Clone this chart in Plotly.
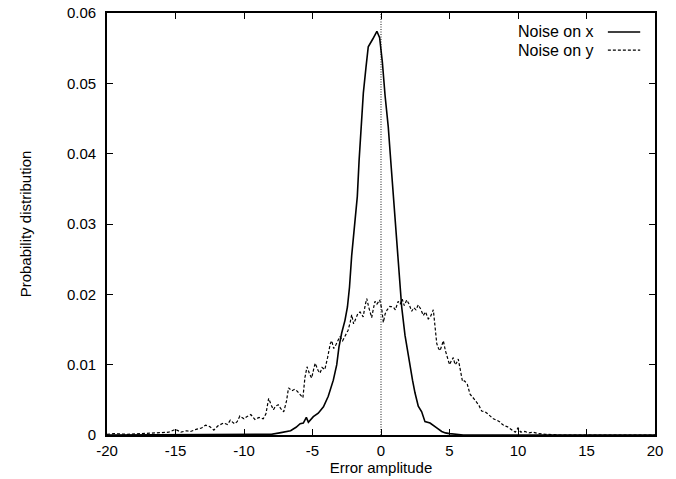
import plotly.graph_objects as go

# ---- data ----
x_noise_x = [-20, -16, -12, -9, -8, -7.4, -7.0, -6.6, -6.2, -5.9, -5.67, -5.45, -5.3, -5.1, -4.94,
             -4.58, -4.2, -3.85, -3.48, -3.23, -3.07, -2.87, -2.63, -2.45, -2.3, -2.14, -1.95,
             -1.73, -1.6, -1.46, -1.29, -1.1, -0.93, -0.6, -0.3, -0.1, 0.1, 0.3, 0.53, 0.75,
             1.02, 1.14, 1.25, 1.39, 1.51, 1.75, 2.0, 2.12, 2.3, 2.48, 2.72, 2.97, 3.21, 3.58,
             3.82, 4.07, 4.43, 4.7, 5.0, 5.5, 6.0, 8, 12, 16, 20]
y_noise_x = [0.0, 0.0, 0.0, 0.0, 0.0001, 0.0003, 0.0004, 0.0006, 0.0011, 0.0016, 0.0017, 0.0025, 0.0018, 0.0022, 0.0026,
             0.0031, 0.0040, 0.0055, 0.0078, 0.0100, 0.0125, 0.0145, 0.0163, 0.0182, 0.0210, 0.0255, 0.0295,
             0.0339, 0.0390, 0.0440, 0.0486, 0.0522, 0.0552, 0.0563, 0.0574, 0.0565, 0.0530, 0.0482, 0.0438, 0.0380,
             0.0305, 0.0277, 0.0250, 0.0215, 0.0182, 0.0142, 0.0110, 0.0097, 0.0078, 0.0060, 0.0041, 0.0033, 0.0019, 0.0017,
             0.0014, 0.0010, 0.0005, 0.0003, 0.0002, 0.0001, 0.0, 0.0, 0.0, 0.0, 0.0]

x_noise_y = [-20, -19.5, -18.5, -17.5, -16.5, -16.0, -15.5, -15.0, -14.6, -14.2, -13.9, -13.5, -13.1, -12.8,
             -12.5, -12.2, -11.9, -11.5, -11.2, -11.0, -10.7, -10.5, -10.3, -10.0, -9.8, -9.5, -9.2, -8.9,
             -8.6, -8.4, -8.2, -8.0, -7.85, -7.7, -7.5, -7.3, -7.1, -6.9, -6.75, -6.5, -6.3, -6.1, -5.9,
             -5.7, -5.55, -5.4, -5.2, -5.06, -4.9, -4.8, -4.6, -4.45, -4.3, -4.1, -3.9, -3.7, -3.6, -3.45,
             -3.3, -3.1, -3.0, -2.8, -2.6, -2.4, -2.25, -2.14, -2.0, -1.85, -1.7, -1.53, -1.4, -1.3, -1.15,
             -1.04, -0.9, -0.75, -0.68, -0.55, -0.44, -0.3, -0.1, 0.05, 0.17, 0.3, 0.45, 0.65, 0.9, 1.05,
             1.25, 1.4, 1.55, 1.7, 1.88, 2.05, 2.24, 2.4, 2.55, 2.72, 2.9, 3.09, 3.25, 3.45, 3.6, 3.82,
             3.95, 4.07, 4.2, 4.31, 4.45, 4.55, 4.7, 4.85, 5.0, 5.15, 5.28, 5.4, 5.5, 5.64, 5.8, 5.95,
             6.1, 6.3, 6.5, 6.65, 6.85, 7.0, 7.15, 7.35, 7.6, 7.8, 8.0, 8.2, 8.45, 8.65, 8.81, 9.0, 9.2,
             9.4, 9.6, 9.8, 10.0, 10.2, 10.5, 10.8, 11.1, 11.5, 12.0, 13.0, 15.0, 17.5, 20]
y_noise_y = [0.0001, 0.0002, 0.0001, 0.0002, 0.0002, 0.0003, 0.0004, 0.0008, 0.0004, 0.0006, 0.0005, 0.0008, 0.0010, 0.0014,
             0.0012, 0.0007, 0.0013, 0.0017, 0.0015, 0.0021, 0.0016, 0.0019, 0.0027, 0.0023, 0.0026, 0.0029, 0.0022, 0.0025,
             0.0023, 0.0030, 0.0052, 0.0042, 0.0036, 0.0041, 0.0043, 0.0037, 0.0033, 0.0048, 0.0067, 0.0063, 0.0065, 0.0062, 0.0057,
             0.0053, 0.0082, 0.0097, 0.0086, 0.0081, 0.0095, 0.0102, 0.0092, 0.0088, 0.0096, 0.0093, 0.0110, 0.0130, 0.0134, 0.0123,
             0.0128, 0.0136, 0.0140, 0.0134, 0.0142, 0.0149, 0.0160, 0.0171, 0.0158, 0.0165, 0.0172, 0.0175, 0.0170, 0.0168, 0.0185,
             0.0194, 0.0182, 0.0170, 0.0167, 0.0180, 0.0190, 0.0186, 0.0192, 0.0180, 0.0160, 0.0172, 0.0178, 0.0183, 0.0182, 0.0178,
             0.0190, 0.0186, 0.0193, 0.0184, 0.0192, 0.0186, 0.0176, 0.0181, 0.0178, 0.0185, 0.0179, 0.0170, 0.0175, 0.0165, 0.0168, 0.0178,
             0.0150, 0.0130, 0.0123, 0.0120, 0.0128, 0.0134, 0.0120, 0.0108, 0.0100, 0.0106, 0.0110, 0.0100, 0.0102, 0.0108, 0.0090, 0.0076,
             0.0077, 0.0072, 0.0058, 0.0055, 0.0050, 0.0046, 0.0042, 0.0034, 0.0033, 0.0030, 0.0027, 0.0023, 0.0021, 0.0019, 0.0016, 0.0013, 0.0012,
             0.0009, 0.0006, 0.0004, 0.0010, 0.0004, 0.0005, 0.0003, 0.0004, 0.0002, 0.0001, 0.0, 0.0, 0.0, 0.0]

series_names = ["Noise on x", "Noise on y"]
x_ticks = [-20, -15, -10, -5, 0, 5, 10, 15, 20]
x_tick_labels = ["-20", "-15", "-10", "-5", "0", "5", "10", "15", "20"]
y_ticks = [0, 0.01, 0.02, 0.03, 0.04, 0.05, 0.06]
y_tick_labels = ["0", "0.01", "0.02", "0.03", "0.04", "0.05", "0.06"]

FONT = "Liberation Sans, Arial, sans-serif"

fig = go.Figure()
fig.add_trace(go.Scatter(x=x_noise_x, y=y_noise_x, mode="lines", name=series_names[0],
                         line=dict(color="black", width=1.6), showlegend=False))
fig.add_trace(go.Scatter(x=x_noise_y, y=y_noise_y, mode="lines", name=series_names[1],
                         line=dict(color="black", width=1.2, dash="3px,2px"), showlegend=False))

# dotted zero line
fig.add_vline(x=0, line=dict(color="black", width=0.9, dash="1px,1.5px"))

axis_common = dict(showline=True, linecolor="black", linewidth=1.6, mirror="ticks",
                   ticks="inside", ticklen=6, tickwidth=1.2, tickcolor="black",
                   showgrid=False, zeroline=False, automargin=False,
                   ticklabeloverflow="allow",
                   tickfont=dict(family=FONT, size=15, color="black"))

fig.update_xaxes(range=[-20, 20], tickvals=x_ticks, ticktext=x_tick_labels,
                 ticklabelstandoff=1,
                 title=dict(text="Error amplitude", font=dict(family=FONT, size=15, color="black"), standoff=0),
                 **axis_common)
fig.update_yaxes(range=[0, 0.06], tickvals=y_ticks, ticktext=y_tick_labels,
                 ticklabelstandoff=6,
                 title=dict(text="Probability distribution", font=dict(family=FONT, size=15, color="black"), standoff=32),
                 **axis_common)

# legend drawn as text with line samples on the right (as in the reference)
legend_rows = [(0.955, "solid", 1.4), (0.912, "3px,2px", 1.2)]
for name, (yy, dash, w) in zip(series_names, legend_rows):
    fig.add_annotation(xref="paper", yref="paper", x=0.893, y=yy, text=name, showarrow=False,
                       xanchor="right", yanchor="middle",
                       font=dict(family=FONT, size=16, color="black"))
    fig.add_shape(type="line", xref="paper", yref="paper", x0=0.914, x1=0.973, y0=yy, y1=yy,
                  line=dict(color="black", width=w, dash=dash))

fig.update_layout(width=676, height=479, margin=dict(l=107, r=21, t=13, b=44),
                  plot_bgcolor="white", paper_bgcolor="white",
                  font=dict(family=FONT, size=15, color="black"))

# remove the browser's default body margin so the figure fills the window
fig.write_html("out.html", config={"displayModeBar": False},
               post_script="document.body.style.margin='0';")
